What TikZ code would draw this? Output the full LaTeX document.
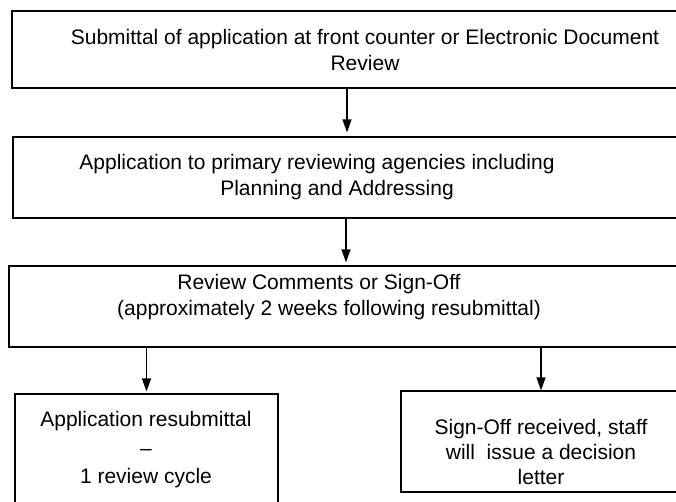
\documentclass[tikz,border=0pt]{standalone}
\usepackage{fontspec}
\setmainfont{Liberation Sans}
\usetikzlibrary{positioning}
\usetikzlibrary{arrows.meta}

\begin{document}
\begin{tikzpicture}[x=1pt, y=-1pt,
    box/.style={draw, line width=1.2pt, inner sep=0pt},
    txt/.style={align=center, inner sep=0pt, font=\fontsize{21}{26}\selectfont},
    arr/.style={line width=1.2pt, -{Triangle[width=9pt,length=13pt]}}]
  \useasboundingbox (0,0) rectangle (676,501);

  % Boxes
  \node[box, minimum width=670pt, minimum height=77pt] (submit) at (347,49.5) {};
  \node[box, minimum width=666pt, minimum height=81pt] (agencies) at (346,177.5) {};
  \node[box, minimum width=674pt, minimum height=81pt] (review) at (346,306.5) {};
  \node[box, minimum width=263pt, minimum height=121pt] (resub) at (146.5,454.5) {};
  \node[box, minimum width=280pt, minimum height=101pt] (signoff) at (541,441.5) {};

  % Texts
  \node[txt] (submitText) at (365,50) {Submittal of application at front counter or Electronic Document\\Review};
  \node[txt] (agenciesText) at (337,177) {Application to primary reviewing agencies including\hspace*{40pt}\\Planning and Addressing};
  \node[txt] (reviewText) at (329,297) {Review Comments or Sign-Off\hspace*{20pt}\\(approximately 2 weeks following resubmittal)};
  \node[txt, font=\fontsize{21}{28.5}\selectfont] (resubText) at (146,450) {Application resubmittal\\--\\1 review cycle};
  \node[txt, font=\fontsize{21}{25}\selectfont] (signoffText) at (541,452) {Sign-Off received, staff\\will\ \ issue a decision\\letter};

  % Arrows
  \draw[arr, shorten >=4pt] (submit.south) -- (submit.south |- agencies.north);
  \draw[arr, shorten >=3pt] (agencies.south) -- (agencies.south |- review.north);
  \draw[arr, shorten >=2pt] (review.south -| resub.north) -- (resub.north);
  \draw[arr] (review.south -| signoff.north) -- (signoff.north);
\end{tikzpicture}
\end{document}
